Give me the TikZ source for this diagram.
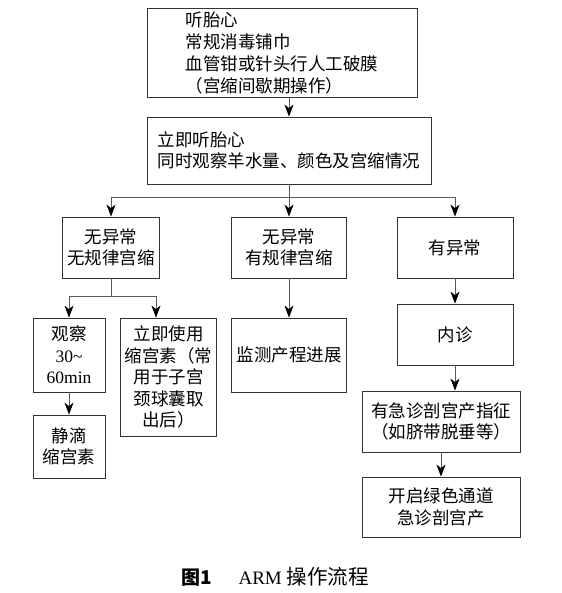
\documentclass[tikz,border=0pt]{standalone}
\usepackage{fontspec}
\setmainfont{Liberation Serif}
\newfontfamily\cjk{Noto Sans CJK SC}
\usetikzlibrary{arrows.meta,positioning}

\begin{document}
\begin{tikzpicture}[x=1pt,y=-1pt,
		box/.style={
				rectangle,
				draw=black!80,
				line width=0.8pt,
				inner sep=0pt,
				align=center,
				font=\cjk\fontsize{17.5}{21.5}\selectfont
			},
		link/.style={
				draw=black!65,
				line width=0.8pt,
				-{Stealth[length=12pt,width=9pt,inset=3.5pt,color=black]}
			}
	]
	\useasboundingbox (0,0) rectangle (561,593);

	\node[box, minimum width=270pt, minimum height=89pt, align=left,
		font=\cjk\fontsize{17.5}{22}\selectfont] (Prep) at (282,53) {
		听胎心\\
		常规消毒铺巾\\
		血管钳或针头行人工破膜\\
		（宫缩间歇期操作）
	};

	\node[box, minimum width=284pt, minimum height=67pt, align=left] (Check) at (289,150.5) {
		立即听胎心\\
		同时观察羊水量、颜色及宫缩情况
	};

	\node[box, minimum width=97pt, minimum height=61pt] (NoIrr) at (111,247.5) {无异常\\无规律宫缩};
	\node[box, minimum width=115pt, minimum height=61pt] (NoReg) at (289,247.5) {无异常\\有规律宫缩};
	\node[box, minimum width=116pt, minimum height=61pt] (Abn) at (455,247.5) {有异常};

	\node[box, minimum width=72pt, minimum height=74pt] (Watch) at (69,355) {
		观察\\{\rmfamily 30\textasciitilde}\\{\rmfamily 60min}
	};
	\node[box, minimum width=96pt, minimum height=118pt] (Oxy) at (168.5,377) {
		立即使用\\缩宫素（常\\用于子宫\\颈球囊取\\出后）
	};
	\node[box, minimum width=72pt, minimum height=63pt] (Drip) at (69,446.5) {静滴\\缩宫素};

	\node[box, minimum width=115pt, minimum height=74pt] (Monitor) at (289,355) {监测产程进展};

	\node[box, minimum width=116pt, minimum height=61pt] (Exam) at (455,334.5) {内诊};
	\node[box, minimum width=158pt, minimum height=61pt] (Indic) at (441,421.5) {
		有急诊剖宫产指征\\（如脐带脱垂等）
	};
	\node[box, minimum width=158pt, minimum height=60pt] (CS) at (441,507) {
		开启绿色通道\\急诊剖宫产
	};

	\draw[link] (Check.north |- Prep.south) -- (Check.north);
	\draw[link] (Check.south) -- ++(0,13) -| (NoIrr.north);
	\draw[link] (Check.south) -- (NoReg.north);
	\draw[link] (Check.south) -- ++(0,13) -| (Abn.north);

	\draw[link] (NoIrr.south) -- ++(0,18) -| (Watch.north);
	\draw[link] (NoIrr.south) -- ++(0,18) -| ([xshift=-12.5pt]Oxy.north);
	\draw[link] (Watch) -- (Drip);
	\draw[link] (NoReg) -- (Monitor);
	\draw[link] (Abn) -- (Exam);
	\draw[link] (Exam.south) -- (Exam.south |- Indic.north);
	\draw[link] (Indic) -- (CS);

	\node[font=\fontsize{19}{22}\selectfont] (Caption) at (275,577) {
		{\cjk\bfseries 图1}\hspace{1.4em}ARM {\cjk\fontsize{20.5}{22}\selectfont 操作流程}
	};
\end{tikzpicture}
\end{document}
